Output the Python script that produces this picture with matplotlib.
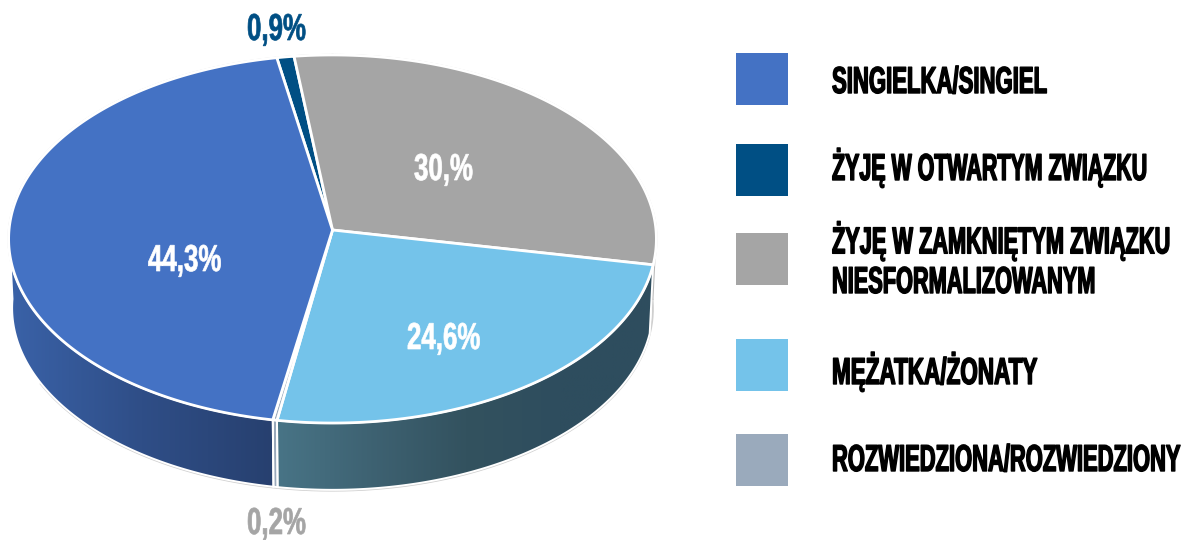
import numpy as np
import matplotlib
matplotlib.use('Agg')
import matplotlib.pyplot as plt
import matplotlib.patheffects as pe
from matplotlib.colors import LinearSegmentedColormap
from matplotlib.patches import Polygon, Rectangle
from matplotlib.text import Text
from matplotlib.transforms import Affine2D, Bbox

categories = ['SINGIELKA/SINGIEL', 'ŻYJĘ W OTWARTYM ZWIĄZKU',
              'ŻYJĘ W ZAMKNIĘTYM ZWIĄZKU\nNIESFORMALIZOWANYM',
              'MĘŻATKA/ŻONATY', 'ROZWIEDZIONA/ROZWIEDZIONY']
values = [44.3, 0.9, 30.0, 24.6, 0.2]
value_labels = ['44,3%', '0,9%', '30,%', '24,6%', '0,2%']
colors = ['#4472C4', '#004F84', '#A5A5A5', '#74C3EA', '#9AAABC']
label_colors = ['white', '#004F84', 'white', 'white', '#A5A5A5']


# the font here is narrower than anything installed, so squeeze it sideways
class Squeeze(pe.AbstractPathEffect):
    def __init__(self, sx, stroke=0.8):
        super().__init__()
        self.sx = sx
        self.stroke = stroke

    def draw_path(self, renderer, gc, tpath, affine, rgbFace):
        x0 = affine.get_matrix()[0, 2]
        squeezed = affine + Affine2D().translate(-x0, 0).scale(self.sx, 1).translate(x0, 0)
        gc0 = renderer.new_gc()
        gc0.copy_properties(gc)
        gc0.set_linewidth(self.stroke)
        gc0.set_foreground(rgbFace[:3])
        renderer.draw_path(gc0, tpath, squeezed, rgbFace)
        gc0.restore()


# left aligned text whose reported extent is the squeezed one
class NarrowText(Text):
    def __init__(self, x, y, s, sx, stroke, **kw):
        super().__init__(x, y, s, path_effects=[Squeeze(sx, stroke)], **kw)
        self.sx = sx

    def get_window_extent(self, renderer=None, dpi=None):
        bb = super().get_window_extent(renderer, dpi)
        return Bbox([[bb.x0, bb.y0], [bb.x0 + bb.width * self.sx, bb.y1]])


# perspective view of the pie disc, u and v are on the unit circle
def project(theta, rx=323.5, b=183.6, k=0.0489, cx=332.5, cy=230.0):
    u = np.sin(np.radians(theta))
    v = -np.cos(np.radians(theta))
    w = 1 - k * v
    return cx + rx * u / w, cy + b * v / w


def wall(ax, t0, t1, stops):
    t = np.linspace(t0, t1, 200)
    xt, yt = project(t)
    xb, yb = project(t, rx=320.0, b=181.5, cy=299.0)
    pts = np.column_stack([np.r_[xt, xb[::-1]], np.r_[yt, yb[::-1]]])
    poly = Polygon(pts, closed=True, fc='none', ec='none')
    ax.add_patch(poly)
    cmap = LinearSegmentedColormap.from_list('w', stops)
    grad = np.linspace(0, 1, 256).reshape(1, -1)
    im = ax.imshow(grad, cmap=cmap, aspect='auto', zorder=2,
                   extent=[pts[:, 0].min(), pts[:, 0].max(), pts[:, 1].max(), pts[:, 1].min()])
    im.set_clip_path(poly)
    outline = Polygon(pts, closed=True, fc='none', ec='white', lw=1.4, zorder=3)
    ax.add_patch(outline)


def main():
    fig = plt.figure(figsize=(11.82, 5.4), dpi=100)
    ax = fig.add_axes([0, 0, 1, 1])

    # slices run clockwise from the top: dark blue, gray, light blue, the small one, blue
    order = [1, 2, 3, 4, 0]
    angles = {}
    t = -10.4
    for i in order:
        angles[i] = (t, t + values[i] * 3.6)
        t += values[i] * 3.6

    # thin gray rim around the whole body
    tt = np.linspace(0, 360, 401)
    xt, yt = project(tt)
    ax.plot(xt, yt, color='#D0D0D0', lw=1.6, zorder=1)
    xb, yb = project(tt[100:271], rx=320.0, b=181.5, cy=299.0)
    ax.plot(xb, yb + 0.8, color='#CFCFCF', lw=1.4, zorder=1)
    ax.plot([xt[100], xb[0]], [yt[100], yb[0]], color='#B8B8B8', lw=1.4, zorder=1)
    ax.plot([xt[270], xb[-1]], [yt[270], yb[-1]], color='#D0D0D0', lw=1.4, zorder=1)

    wall(ax, angles[3][0], angles[3][1], ['#487486', '#3E6272', '#33525F', '#2E4D5E', '#2E4D5E'])
    wall(ax, angles[4][1], 270, ['#3A62A8', '#2F4E87', '#27406F'])
    wall(ax, angles[4][0], angles[4][1], ['#9AAABC', '#9AAABC'])

    for i in order:
        t0, t1 = angles[i]
        x, y = project(np.linspace(t0, t1, 200))
        cx, cy = project(np.array([90.0]), rx=0.0, b=0.0)
        pts = np.column_stack([np.r_[cx, x], np.r_[cy, y]])
        ax.add_patch(Polygon(pts, closed=True, fc=colors[i], ec='white', lw=2.0,
                             joinstyle='round', zorder=4))

    font = ['Liberation Sans Narrow', 'Liberation Sans']
    label_x = [148, 247, 414, 407, 247]
    label_y = [271, 40, 180, 349, 534]
    for i, s in enumerate(value_labels):
        ax.add_artist(NarrowText(label_x[i], label_y[i], s, 0.69, 0.5, color=label_colors[i],
                                 fontsize=27, fontweight='bold', family=font,
                                 va='baseline', ha='left', zorder=6))

    box_y = [53, 144, 233, 339, 434]
    text_y = [93, 180, 293, 384, 471]
    squeeze = [0.59, 0.571, 0.58, 0.60, 0.585]
    for i, name in enumerate(categories):
        ax.add_patch(Rectangle((736, box_y[i]), 52, 52, fc=colors[i], ec='none', zorder=5))
        ax.add_artist(NarrowText(832, text_y[i], name, squeeze[i], 1.0, color='black',
                                 fontsize=27, fontweight='bold', family=font,
                                 va='baseline', ha='left', linespacing=1.13, zorder=6))

    ax.set_xlim(0, 1182)
    ax.set_ylim(540, 0)
    ax.axis('off')
    fig.savefig('out.png', dpi=100)


if __name__ == '__main__':
    main()
